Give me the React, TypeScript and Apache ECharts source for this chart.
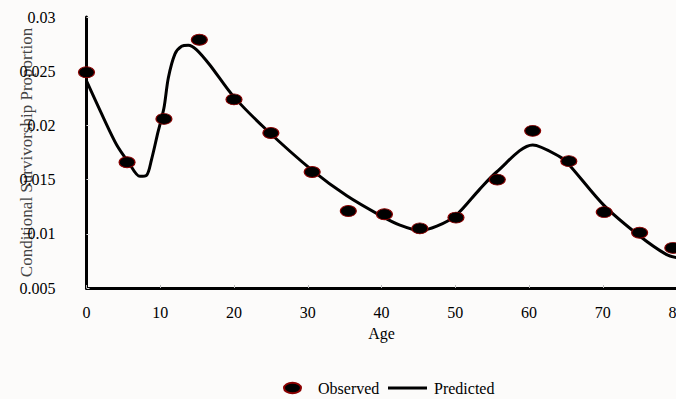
import React, { useEffect, useRef } from "react";
import * as echarts from "echarts";

const observedAges = [0, 5.5, 10.5, 15.3, 20, 25, 30.6, 35.5, 40.4, 45.2, 50.1, 55.7, 60.5, 65.4, 70.2, 75, 79.5];
const observedValues = [0.0249, 0.0166, 0.0206, 0.0279, 0.0224, 0.0193, 0.0157, 0.0121, 0.0118, 0.0105, 0.0115, 0.015, 0.0195, 0.0167, 0.012, 0.0101, 0.0087];

const predictedAges = [0, 2.3, 4.1, 5.7, 7.25, 8.15, 8.8, 9.7, 10.5, 11.1, 12, 12.9, 13.8, 14.9, 16.7, 19.9, 24.4, 30.7, 35.3, 39.8, 42.5, 45.2, 47.5, 50.1, 53.3, 55.6, 60.5, 64.2, 65.4, 70.2, 75, 78.6, 80];
const predictedValues = [0.0241, 0.0207, 0.0182, 0.0166, 0.0153, 0.0154, 0.0168, 0.0194, 0.0216, 0.0244, 0.0266, 0.0273, 0.0274, 0.027, 0.0256, 0.0227, 0.0196, 0.0158, 0.0135, 0.0117, 0.0108, 0.0103, 0.0107, 0.0117, 0.0141, 0.0157, 0.0182, 0.0171, 0.0164, 0.0126, 0.0098, 0.0081, 0.0078];

const xTicks = { min: 0, max: 80, interval: 10 };
const yTicks = { min: 0.005, max: 0.03, interval: 0.005 };

const FONT = "Liberation Serif";
const ELLIPSE = "path://M0,5a8,5 0 1,0 16,0a8,5 0 1,0 -16,0z";

export default function App() {
  const ref = useRef<HTMLDivElement>(null);
  useEffect(() => {
    document.body.style.margin = "0";
    const chart = echarts.init(ref.current!, null, { renderer: "svg" });
    chart.setOption({
      animation: false,
      backgroundColor: "#fcfbfa",
      textStyle: { fontFamily: FONT },
      grid: { left: 86.5, top: 17, width: 590, height: 271, containLabel: false, outerBoundsMode: "none" },
      legend: [
        {
          data: [{ name: "Observed", icon: ELLIPSE }],
          left: 278,
          top: 375,
          itemWidth: 17,
          itemHeight: 12,
          textStyle: { fontFamily: FONT, fontSize: 16, color: "#000", padding: [0, 0, 0, 12] },
        },
        {
          data: [{ name: "Predicted", icon: "rect" }],
          left: 383,
          top: 375,
          itemWidth: 39,
          itemHeight: 3,
          textStyle: { fontFamily: FONT, fontSize: 16, color: "#000", padding: [0, 0, 0, 2] },
        },
      ],
      xAxis: {
        type: "value",
        ...xTicks,
        name: "Age",
        nameLocation: "middle",
        nameGap: 37,
        nameMoveOverlap: false,
        nameTextStyle: { fontFamily: FONT, fontSize: 16, color: "#000" },
        axisLine: { lineStyle: { color: "#000", width: 3 } },
        axisTick: { inside: true, length: 3, lineStyle: { color: "#bbb" } },
        axisLabel: { fontFamily: FONT, fontSize: 16, color: "#000", margin: 16 },
        splitLine: { show: false },
      },
      yAxis: {
        type: "value",
        ...yTicks,
        name: "Conditional Survivorship Proportion",
        nameLocation: "middle",
        nameGap: 52,
        nameMoveOverlap: false,
        nameTextStyle: { fontFamily: FONT, fontSize: 17, color: "#444" },
        axisLine: { show: true, lineStyle: { color: "#000", width: 3 } },
        axisTick: { show: true, inside: true, length: 3, lineStyle: { color: "#ddd" } },
        axisLabel: { fontFamily: FONT, fontSize: 16, color: "#000", margin: 31 },
        splitLine: { show: false },
      },
      series: [
        {
          name: "Predicted",
          type: "line",
          data: predictedAges.map((a, i) => [a, predictedValues[i]]),
          smooth: 0.3,
          symbol: "none",
          lineStyle: { color: "#000", width: 3 },
          itemStyle: { color: "#000" },
          z: 2,
        },
        {
          name: "Observed",
          type: "scatter",
          data: observedAges.map((a, i) => [a, observedValues[i]]),
          symbol: ELLIPSE,
          symbolSize: [16, 11],
          itemStyle: { color: "#000", borderColor: "#8b0000", borderWidth: 1, opacity: 1 },
          z: 3,
        },
      ],
    });
    return () => chart.dispose();
  }, []);
  return <div ref={ref} style={{ width: 676, height: 399 }} />;
}
